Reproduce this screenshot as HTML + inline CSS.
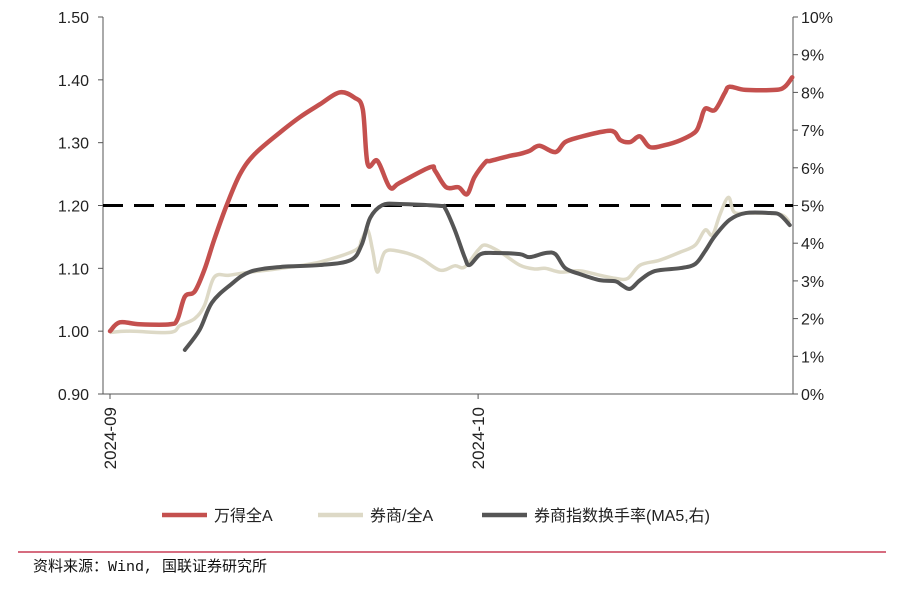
<!DOCTYPE html>
<html><head><meta charset="utf-8"><style>
body{margin:0;background:#fff;width:902px;height:585px;overflow:hidden;font-family:"Liberation Sans","Noto Sans CJK SC",sans-serif}
svg text{font-family:"Liberation Sans","Noto Sans CJK SC",sans-serif}
svg text.mono{font-family:"Liberation Mono","Noto Sans CJK SC",monospace}
</style></head><body>
<svg id="chart" width="902" height="585" viewBox="0 0 902 585"></svg>
<script>
const xTickLabels=["2024-09","2024-10"];
const xTickDays=[0,30];
const leftTicks=[0.90,1.00,1.10,1.20,1.30,1.40,1.50];
const rightTicks=[0,1,2,3,4,5,6,7,8,9,10];
const refLine=1.20;
const windDays=[0,0.8,2.4,4.9,5.5,6.1,6.9,7.7,8.5,9.5,10.6,11.8,13.9,15.5,17.1,18.7,19.9,20.6,21.0,21.8,22.8,23.6,26.1,26.5,27.4,28.4,29.1,29.7,30.6,31.0,32.6,33.4,34.2,35.0,36.3,37.1,38.3,40.3,41.1,41.6,42.4,43.2,44.0,45.2,46.5,47.7,48.1,48.5,49.3,50.1,50.5,51.8,54.2,55.0,55.6];
const windVals=[1.00,1.014,1.011,1.011,1.019,1.055,1.063,1.098,1.146,1.20,1.25,1.282,1.317,1.341,1.361,1.380,1.372,1.353,1.266,1.271,1.229,1.236,1.261,1.255,1.229,1.229,1.218,1.245,1.269,1.271,1.279,1.282,1.287,1.295,1.285,1.301,1.309,1.318,1.317,1.304,1.301,1.310,1.293,1.296,1.304,1.317,1.333,1.354,1.352,1.379,1.389,1.384,1.384,1.389,1.404];
const ratioDays=[0,1.6,4.9,5.7,6.9,7.7,8.5,9.7,11.4,13.9,17.1,20.0,20.5,21.0,21.4,21.8,22.4,23.6,25.3,26.9,28.1,28.9,30.0,30.6,31.8,33.4,34.6,35.5,36.7,38.3,39.9,41.2,42.2,43.2,44.8,46.5,47.7,48.5,49.1,49.7,50.4,50.9,52.2,54.6,55.4];
const ratioVals=[0.998,1.0,0.998,1.009,1.020,1.041,1.086,1.089,1.094,1.100,1.110,1.129,1.145,1.161,1.129,1.094,1.126,1.127,1.116,1.097,1.104,1.102,1.129,1.137,1.126,1.105,1.099,1.100,1.094,1.096,1.089,1.084,1.084,1.105,1.113,1.126,1.137,1.161,1.153,1.185,1.213,1.189,1.188,1.186,1.173];
const turnDays=[6.1,7.3,8.3,9.8,11.4,13.9,17.1,19.6,20.5,21.2,22.2,23.6,26.9,27.3,28.1,28.9,29.3,30.2,31.4,33.4,34.2,35.5,36.3,37.1,38.3,39.9,41.2,41.7,42.4,43.2,44.4,46.5,47.7,48.5,49.3,50.5,51.8,53.8,54.6,55.4];
const turnVals=[1.17,1.70,2.42,2.89,3.24,3.37,3.42,3.55,3.95,4.67,5.01,5.04,4.99,4.93,4.35,3.63,3.42,3.71,3.74,3.71,3.63,3.74,3.71,3.34,3.18,3.02,2.99,2.89,2.79,3.02,3.26,3.34,3.45,3.79,4.19,4.62,4.80,4.80,4.75,4.48];

const NS="http://www.w3.org/2000/svg";
const svg=document.getElementById('chart');
const L=103,R=793,T=17,B=394;
const xS=d=>110+d*12.27;
const yL=v=>T+(1.5-v)/0.6*(B-T);
const yR=v=>B-v/10*(B-T);
function mk(tag,attrs,parent){const e=document.createElementNS(NS,tag);for(const k in attrs)e.setAttribute(k,attrs[k]);(parent||svg).appendChild(e);return e;}
function smooth(pts){let d=`M${pts[0][0]},${pts[0][1]}`;for(let i=0;i<pts.length-1;i++){const p0=pts[i-1]||pts[i],p1=pts[i],p2=pts[i+1],p3=pts[i+2]||p2;const c1=[p1[0]+(p2[0]-p0[0])/6,p1[1]+(p2[1]-p0[1])/6],c2=[p2[0]-(p3[0]-p1[0])/6,p2[1]-(p3[1]-p1[1])/6];d+=` C${c1[0]},${c1[1]} ${c2[0]},${c2[1]} ${p2[0]},${p2[1]}`;}return d;}

let e=mk('line',{x1:L,y1:T,x2:L,y2:B,stroke:'#555','stroke-width':1});

e=mk('line',{x1:R,y1:T,x2:R,y2:B,stroke:'#555','stroke-width':1});

e=mk('line',{x1:L,y1:B,x2:R,y2:B,stroke:'#555','stroke-width':1});

leftTicks.forEach(v=>{const y=yL(v);
 mk('line',{x1:L-5,y1:y,x2:L,y2:y,stroke:'#555'});
 const t=mk('text',{x:L-14,y:y+6,'text-anchor':'end','font-size':16,fill:'#222'});t.textContent=v.toFixed(2);
 });
rightTicks.forEach(v=>{const y=yR(v);
 mk('line',{x1:R,y1:y,x2:R+5,y2:y,stroke:'#555'});
 const t=mk('text',{x:R+8,y:y+6,'font-size':16,fill:'#222'});t.textContent=v+'%';
 });
xTickDays.forEach((d,i)=>{const x=xS(d);
 mk('line',{x1:x,y1:B,x2:x,y2:B+5,stroke:'#555'});
 const t=mk('text',{x:0,y:0,'text-anchor':'end','font-size':17,fill:'#222',transform:`translate(${x+6},${B+13}) rotate(-90)`});t.textContent=xTickLabels[i];
 });

e=mk('line',{x1:L,y1:yL(refLine),x2:R,y2:yL(refLine),stroke:'#000','stroke-width':3,'stroke-dasharray':'20,11'});


e=mk('path',{d:smooth(ratioDays.map((d,i)=>[xS(d),yL(ratioVals[i])])),fill:'none',stroke:'#ddd9c6','stroke-width':3.5,'stroke-linejoin':'round'});

e=mk('path',{d:smooth(turnDays.map((d,i)=>[xS(d),yR(turnVals[i])])),fill:'none',stroke:'#555555','stroke-width':4,'stroke-linejoin':'round','stroke-linecap':'round'});

e=mk('path',{d:smooth(windDays.map((d,i)=>[xS(d),yL(windVals[i])])),fill:'none',stroke:'#c4504e','stroke-width':4.5,'stroke-linejoin':'round','stroke-linecap':'round'});


const leg=[[162,'#c4504e','万得全A','legend-wind-all-a'],[318,'#ddd9c6','券商/全A','legend-broker-ratio'],[482,'#555555','券商指数换手率(MA5,右)','legend-turnover']];
leg.forEach(l=>{const g=mk('g',{});
 
 mk('line',{x1:l[0],y1:515,x2:l[0]+45,y2:515,stroke:l[1],'stroke-width':4.5},g);
 const t=mk('text',{x:l[0]+52,y:521,'font-size':16,fill:'#222'},g);t.textContent=l[2];});

e=mk('line',{x1:18,y1:552,x2:886,y2:552,stroke:'#c83c55','stroke-width':1.5});

const s=mk('text',{x:33,y:571,'font-size':15,fill:'#111','class':'mono'});s.textContent='资料来源：Wind, 国联证券研究所';

</script>
</body></html>
